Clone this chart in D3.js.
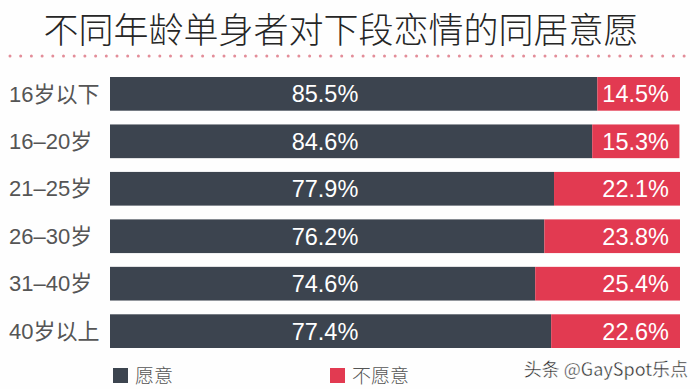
<!DOCTYPE html>
<html>
<head>
<meta charset="utf-8">
<script src="https://cdn.jsdelivr.net/npm/d3@7"></script>
<style>
  body { margin: 0; background: #fff; }
  svg { display: block; font-family: "Noto Sans CJK SC", "Liberation Sans", sans-serif; }
</style>
</head>
<body>
<div id="chart"></div>
<script>
const title = "不同年龄单身者对下段恋情的同居意愿";
const categories = ["16岁以下", "16–20岁", "21–25岁", "26–30岁", "31–40岁", "40岁以上"];
const willing = [85.5, 84.6, 77.9, 76.2, 74.6, 77.4];
const unwilling = [14.5, 15.3, 22.1, 23.8, 25.4, 22.6];
const seriesNames = ["愿意", "不愿意"];

const colors = ["#3c444f", "#e23a51"];

const width = 700, height = 389;
const margin = { top: 77, right: 20, bottom: 41, left: 110 };

function main() {
    const svg = d3.select("#chart")
        .append("svg")
        .attr("width", width)
        .attr("height", height);

    svg.append("rect")
        .attr("width", width)
        .attr("height", height)
        .attr("fill", "#fefefe");

    // Title
    svg.append("text")
        .attr("x", 341)
        .attr("y", 43)
        .attr("text-anchor", "middle")
        .attr("font-size", 35)
        .attr("font-weight", 300)
        .attr("fill", "#262626")
        .text(title);

    // Dotted divider
    const dots = d3.range(10, 690, 10.7);
    svg.append("g")
        .selectAll("circle")
        .data(dots)
        .enter()
        .append("circle")
        .attr("cx", d => d)
        .attr("cy", 56)
        .attr("r", 1.5)
        .attr("fill", "#e38d99");

    const x = d3.scaleLinear()
        .domain([0, 100])
        .range([margin.left, width - margin.right]);

    const y = d3.scaleBand()
        .domain(categories)
        .range([margin.top, height - margin.bottom])
        .paddingInner(0.29)
        .paddingOuter(0);

    const rows = categories.map((c, i) => ({ cat: c, a: willing[i], b: unwilling[i] }));

    const row = svg.append("g")
        .selectAll("g")
        .data(rows)
        .enter()
        .append("g");

    row.append("rect")
        .attr("x", x(0))
        .attr("y", d => y(d.cat))
        .attr("width", d => x(d.a) - x(0))
        .attr("height", y.bandwidth())
        .attr("fill", colors[0]);

    row.append("rect")
        .attr("x", d => x(d.a))
        .attr("y", d => y(d.cat))
        .attr("width", d => x(d.a + d.b) - x(d.a))
        .attr("height", y.bandwidth())
        .attr("fill", colors[1]);

    // Category labels
    row.append("text")
        .attr("x", 9)
        .attr("y", d => y(d.cat) + y.bandwidth() / 2)
        .attr("dy", "0.35em")
        .attr("font-family", "'Liberation Sans', 'Noto Sans CJK SC', sans-serif")
        .attr("font-size", 22)
        .attr("fill", "#555555")
        .text(d => d.cat);

    // Value labels
    row.append("text")
        .attr("x", 325)
        .attr("y", d => y(d.cat) + y.bandwidth() / 2)
        .attr("dy", "0.36em")
        .attr("text-anchor", "middle")
        .attr("font-family", "'Liberation Sans', Arial, sans-serif")
        .attr("font-size", 23.5)
        .attr("fill", "#ffffff")
        .text(d => d.a.toFixed(1) + "%");

    row.append("text")
        .attr("x", x(100) - 11)
        .attr("y", d => y(d.cat) + y.bandwidth() / 2)
        .attr("dy", "0.36em")
        .attr("text-anchor", "end")
        .attr("font-family", "'Liberation Sans', Arial, sans-serif")
        .attr("font-size", 23.5)
        .attr("fill", "#ffffff")
        .text(d => d.b.toFixed(1) + "%");

    // Legend
    const legendX = [113, 330];
    const legend = svg.append("g")
        .selectAll("g")
        .data(seriesNames)
        .enter()
        .append("g")
        .attr("transform", (d, i) => `translate(${legendX[i]}, 368)`);

    legend.append("rect")
        .attr("width", 15)
        .attr("height", 15)
        .attr("fill", (d, i) => colors[i]);

    legend.append("text")
        .attr("x", 22)
        .attr("y", 8)
        .attr("dy", "0.36em")
        .attr("font-size", 19)
        .attr("font-weight", 300)
        .attr("fill", "#555")
        .text(d => d);

    // Watermark
    svg.append("text")
        .attr("x", 688)
        .attr("y", 376)
        .attr("text-anchor", "end")
        .attr("font-size", 18)
        .attr("fill", "#2a2a2a")
        .attr("stroke", "#ffffff")
        .attr("stroke-width", 0.4)
        .text("头条 @GaySpot乐点");
}

main();
</script>
</body>
</html>
